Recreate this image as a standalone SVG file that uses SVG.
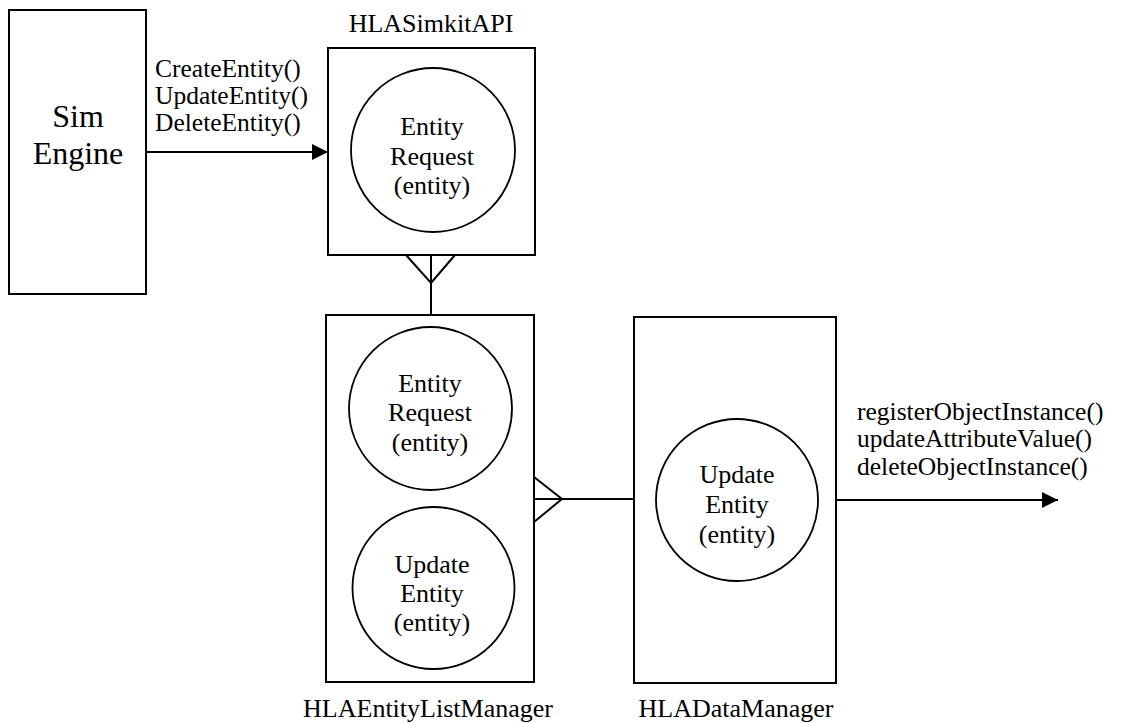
<svg xmlns="http://www.w3.org/2000/svg" width="1123" height="723" viewBox="0 0 1123 723">
  <style>
    .box { fill: #ffffff; stroke: #000000; stroke-width: 2; }
    .proc { fill: none; stroke: #000000; stroke-width: 1.8; }
    .t { font-family: "Liberation Serif", "Times New Roman", serif; font-size: 26px; fill: #000000; }
    .lbl { font-size: 25.5px; }
    .mid { text-anchor: middle; }
    .big { font-size: 32px; }
    .ln { fill: none; stroke: #000000; stroke-width: 2; }
  </style>
  <defs>
    <marker id="arrow" markerWidth="16" markerHeight="16" refX="16" refY="8" orient="auto" markerUnits="userSpaceOnUse">
      <path d="M0,0 L16,8 L0,16 Z" fill="#000000"/>
    </marker>
  </defs>
  <rect width="1123" height="723" fill="#ffffff"/>

  <g id="sim-engine">
    <rect class="box" x="9" y="10" width="137" height="284"/>
    <text class="t big mid" x="78" y="127">Sim</text>
    <text class="t big mid" x="78" y="164">Engine</text>
  </g>

  <g id="hla-simkit-api">
    <text class="t mid" x="431" y="32">HLASimkitAPI</text>
    <rect class="box" x="328" y="48" width="207" height="207"/>
    <circle class="proc" cx="433" cy="150" r="82"/>
    <text class="t mid" x="432" y="135">Entity</text>
    <text class="t mid" x="432" y="165">Request</text>
    <text class="t mid" x="432" y="194">(entity)</text>
  </g>

  <g id="hla-entity-list-manager">
    <rect class="box" x="326" y="315" width="208" height="367"/>
    <circle class="proc" cx="430.5" cy="408.5" r="81.5"/>
    <text class="t mid" x="430" y="392">Entity</text>
    <text class="t mid" x="430" y="421">Request</text>
    <text class="t mid" x="430" y="451">(entity)</text>
    <circle class="proc" cx="433.5" cy="588" r="81"/>
    <text class="t mid" x="432" y="573">Update</text>
    <text class="t mid" x="432" y="602">Entity</text>
    <text class="t mid" x="432" y="631">(entity)</text>
    <text class="t mid" x="428" y="717">HLAEntityListManager</text>
  </g>

  <g id="hla-data-manager">
    <rect class="box" x="634" y="317" width="202" height="366"/>
    <circle class="proc" cx="737" cy="500" r="81"/>
    <text class="t mid" x="737" y="483">Update</text>
    <text class="t mid" x="737" y="513">Entity</text>
    <text class="t mid" x="737" y="543">(entity)</text>
    <text class="t mid" x="736" y="717">HLADataManager</text>
  </g>

  <g id="connectors">
    <line class="ln" x1="146" y1="152" x2="328" y2="152" marker-end="url(#arrow)"/>
    <g class="t lbl">
      <text x="155" y="77">CreateEntity()</text>
      <text x="155" y="104">UpdateEntity()</text>
      <text x="155" y="131">DeleteEntity()</text>
    </g>
    <line class="ln" x1="431" y1="255" x2="431" y2="315"/>
    <polyline class="ln" points="406,255 431,283 455,255"/>
    <line class="ln" x1="534" y1="499" x2="634" y2="499"/>
    <polyline class="ln" points="534,477 562,499 534,522"/>
    <line class="ln" x1="836" y1="500" x2="1058" y2="500" marker-end="url(#arrow)"/>
    <g class="t lbl">
      <text x="857" y="420">registerObjectInstance()</text>
      <text x="857" y="447">updateAttributeValue()</text>
      <text x="857" y="475">deleteObjectInstance()</text>
    </g>
  </g>
</svg>
